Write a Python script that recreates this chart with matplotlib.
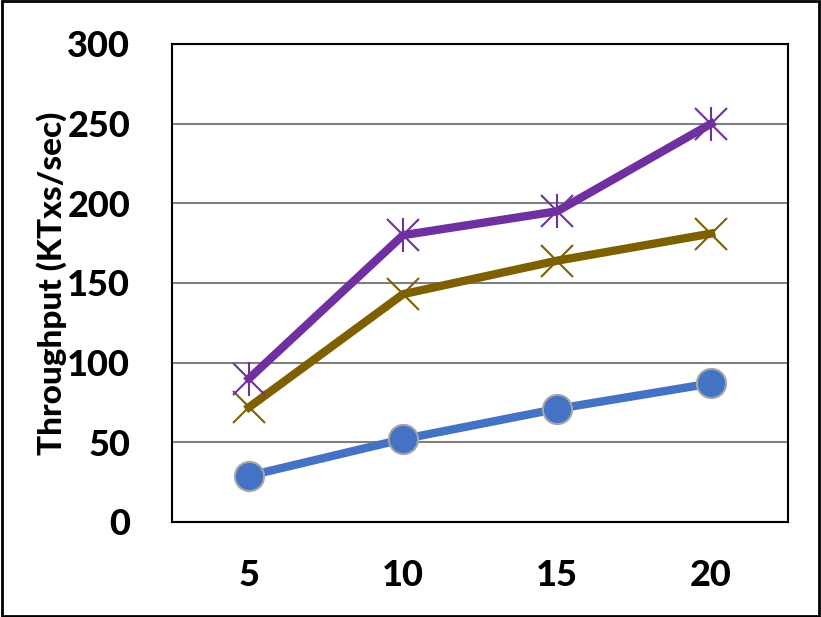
import matplotlib.pyplot as plt
import matplotlib.patches as patches

categories = ['5', '10', '15', '20']
series_blue = [29, 52, 71, 87]
series_brown = [72, 143, 164, 181]
series_purple = [90, 180, 195, 250]
yticks = [0, 50, 100, 150, 200, 250, 300]

plt.rcParams['font.family'] = ['Lato', 'DejaVu Sans']
plt.rcParams['font.weight'] = 'black'

fig = plt.figure(figsize=(8.21, 6.17), dpi=100)
ax = fig.add_axes([0.2095, 0.154, 0.7505, 0.7747])

x = list(range(len(categories)))

ax.plot(x, series_blue, color='#4472C4', linewidth=6, marker='o', markersize=21,
        markerfacecolor='#4472C4', markeredgecolor='#A5A5A5', markeredgewidth=1.5, zorder=3)
ax.plot(x, series_brown, color='#7F6000', linewidth=6, zorder=3)
ax.plot(x, series_brown, linestyle='none', marker='x', markersize=23,
        markeredgecolor='#7F6000', markeredgewidth=1.5, zorder=4)
ax.plot(x, series_purple, color='#7030A0', linewidth=6, zorder=3)
ax.plot(x, series_purple, linestyle='none', marker='x', markersize=23,
        markeredgecolor='#7030A0', markeredgewidth=1.5, zorder=4)
ax.plot(x, series_purple, linestyle='none', marker='|', markersize=25,
        markeredgecolor='#7030A0', markeredgewidth=1.5, zorder=4)

ax.set_xlim(-0.5, len(categories) - 0.5)
ax.set_ylim(0, 300)
ax.set_xticks(x)
ax.set_xticklabels(categories)
ax.set_yticks(yticks)
ax.tick_params(axis='both', length=0, labelsize=26)
ax.tick_params(axis='x', pad=27)
ax.tick_params(axis='y', pad=30)
for lbl in ax.get_xticklabels() + ax.get_yticklabels():
    lbl.set_fontweight('black')

ax.yaxis.grid(True, color='#808080', linewidth=1.5)
ax.set_axisbelow(True)
for s in ax.spines.values():
    s.set_color('black')
    s.set_linewidth(1.5)

ax.set_ylabel('Throughput (KTxs/sec)', fontsize=24, fontweight='black')
ax.yaxis.set_label_coords(-0.17, 0.5)

fig.patches.append(patches.Rectangle((0.002, 0.002), 0.996, 0.996, transform=fig.transFigure,
                                     fill=False, edgecolor='black', linewidth=2))

fig.savefig('out.png', dpi=100)
